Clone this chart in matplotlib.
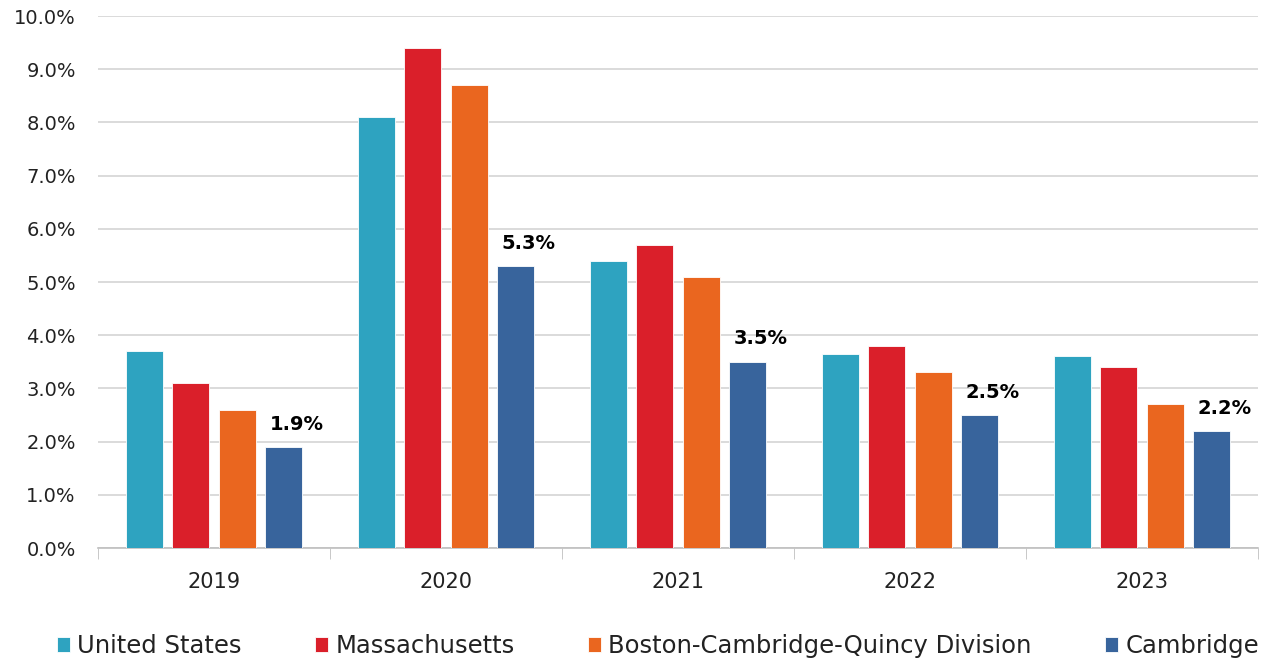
import matplotlib.pyplot as plt
import numpy as np

# %% Data
years = ["2019", "2020", "2021", "2022", "2023"]
series_names = ["United States", "Massachusetts", "Boston-Cambridge-Quincy Division", "Cambridge"]
us = [3.7, 8.1, 5.4, 3.65, 3.6]
ma = [3.1, 9.4, 5.7, 3.8, 3.4]
bcq = [2.6, 8.7, 5.1, 3.3, 2.7]
cambridge = [1.9, 5.3, 3.5, 2.5, 2.2]
colors = ["#2EA3C0", "#DA1F2A", "#EA661F", "#38649C"]

# %% Plot
plt.rcParams['font.family'] = ['DejaVu Sans']
fig = plt.figure(figsize=(12.65, 6.62), dpi=100)
ax = fig.add_axes([98 / 1265, 1 - 548 / 662, 1160 / 1265, 532 / 662])

x = np.arange(len(years))
width = 0.16
step = 0.2
for i, (vals, name, col) in enumerate(zip([us, ma, bcq, cambridge], series_names, colors)):
    pos = x + (i - 1.5) * step
    ax.bar(pos, vals, width, color=col, label=name, edgecolor="white", linewidth=0.6, zorder=3)

# labels on Cambridge bars
for xi, v in zip(x + 1.5 * step, cambridge):
    ax.text(xi + 0.055, v + 0.25, f"{v:.1f}%", ha="center", va="bottom",
            fontsize=14, fontweight="bold", color="black")

ax.set_xlim(-0.5, len(years) - 0.5)
ax.set_ylim(0, 10)
ax.set_yticks(np.arange(0, 10.5, 1))
ax.set_yticklabels([f"{t:.1f}%" for t in np.arange(0, 10.5, 1)], fontsize=14, color="#222222")
ax.set_xticks(x)
ax.set_xticklabels(years, fontsize=15, color="#222222")
ax.set_xticks(np.arange(-0.5, len(years), 1), minor=True)
ax.tick_params(axis="x", which="major", length=0, pad=17)
ax.tick_params(axis="x", which="minor", length=8, color="#bfbfbf")
ax.tick_params(axis="y", length=0, pad=16)
ax.grid(axis="y", color="#d4d4d4", linewidth=1.2, zorder=0)
for s in ["top", "right", "left"]:
    ax.spines[s].set_visible(False)
ax.spines["bottom"].set_color("#bfbfbf")
ax.spines["bottom"].set_linewidth(1.2)

fig.legend(loc="center", bbox_to_anchor=(0.52, 1 - 646 / 662), ncol=4, frameon=False,
           fontsize=17.5, handlelength=0.55, handleheight=0.55, handletextpad=0.3, columnspacing=3.0,
           labelcolor="#222222")

fig.savefig("out.png", dpi=100)
